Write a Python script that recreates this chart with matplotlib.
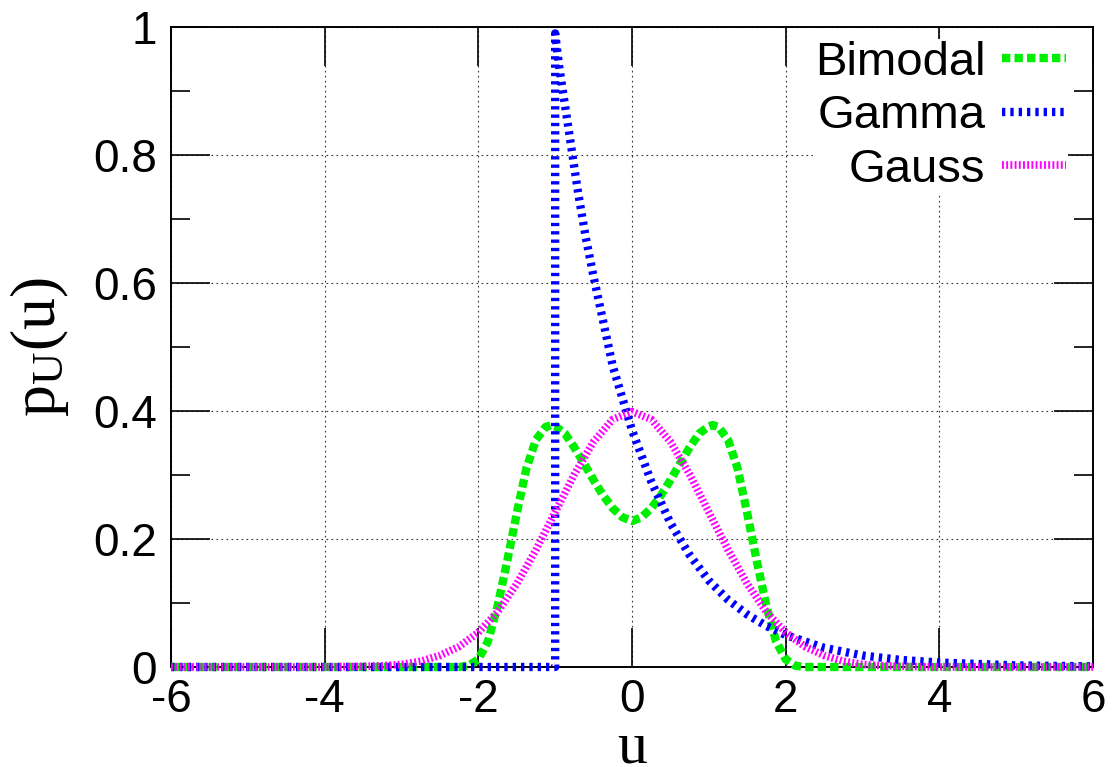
import matplotlib
matplotlib.use("Agg")
import matplotlib.pyplot as plt
from matplotlib.ticker import MultipleLocator, FixedLocator

plt.rcParams["font.family"] = ["Liberation Sans", "DejaVu Sans"]
plt.rcParams["axes.unicode_minus"] = False
plt.rcParams["mathtext.fontset"] = "custom"
plt.rcParams["mathtext.rm"] = "Liberation Serif"
plt.rcParams["mathtext.it"] = "Liberation Serif:italic"

# ── values ──
u_bimodal = [-6, -3, -2.25, -2.125, -2.0, -1.875, -1.75, -1.625, -1.5, -1.375, -1.25,
             -1.125, -1.05, -1.0, -0.875, -0.75, -0.625, -0.5, -0.375, -0.25, -0.125, 0,
             0.125, 0.25, 0.375, 0.5, 0.625, 0.75, 0.875, 1.0, 1.05, 1.125, 1.25, 1.375,
             1.5, 1.625, 1.75, 1.875, 2.0, 2.125, 2.25, 3, 6]
p_bimodal = [0, 0, 0, 0.002, 0.012, 0.04, 0.095, 0.165, 0.24, 0.31, 0.355,
             0.375, 0.378, 0.376, 0.365, 0.343, 0.318, 0.292, 0.268, 0.248, 0.234, 0.228,
             0.234, 0.248, 0.268, 0.292, 0.318, 0.343, 0.365, 0.376, 0.378, 0.375, 0.355, 0.31,
             0.24, 0.165, 0.095, 0.04, 0.012, 0.002, 0, 0, 0]

u_gamma = [-6, -1, -1, -0.95, -0.9, -0.8, -0.7, -0.6, -0.5, -0.25, 0, 0.25, 0.5, 0.75,
           1, 1.25, 1.5, 1.75, 2, 2.5, 3, 3.5, 4, 5, 6]
p_gamma = [0, 0, 0.99, 0.94, 0.9, 0.82, 0.74, 0.67, 0.61, 0.47, 0.37, 0.29, 0.225, 0.175,
           0.135, 0.105, 0.082, 0.064, 0.05, 0.03, 0.018, 0.011, 0.007, 0.0025, 0.001]

u_gauss = [-6, -4, -3.5, -3.25, -3, -2.75, -2.5, -2.25, -2, -1.75, -1.5, -1.25, -1,
           -0.75, -0.5, -0.25, 0, 0.25, 0.5, 0.75, 1, 1.25, 1.5, 1.75, 2, 2.25, 2.5,
           2.75, 3, 3.25, 3.5, 4, 6]
p_gauss = [0, 0, 0.001, 0.002, 0.004, 0.009, 0.018, 0.032, 0.054, 0.086, 0.13, 0.183, 0.242,
           0.301, 0.352, 0.387, 0.399, 0.387, 0.352, 0.301, 0.242, 0.183, 0.13, 0.086, 0.054,
           0.032, 0.018, 0.009, 0.004, 0.002, 0.001, 0, 0]

x_ticks = [-6, -4, -2, 0, 2, 4, 6]
y_ticks = [0, 0.2, 0.4, 0.6, 0.8, 1.0]
y_ticklabels = ["0", "0.2", "0.4", "0.6", "0.8", "1"]

fig = plt.figure(figsize=(11.18, 7.67), dpi=100)
ax = fig.add_axes([171 / 1118, 1 - 667 / 767, 922 / 1118, 640 / 767])

ax.plot(u_bimodal, p_bimodal, color="#00ee00", lw=6, dashes=(1.0, 0.5),
        label="Bimodal", clip_on=False, zorder=3)
ax.plot(u_gamma, p_gamma, color="#0000ff", lw=6, dashes=(0.4, 0.6),
        label="Gamma", clip_on=False, zorder=3)
ax.plot(u_gauss, p_gauss, color="#ff00ff", lw=5.5, dashes=(0.25, 0.3),
        label="Gauss", clip_on=False, zorder=3)

ax.set_xlim(-6, 6)
ax.set_ylim(0, 1)
ax.xaxis.set_major_locator(FixedLocator(x_ticks))
ax.set_yticks(y_ticks)
ax.set_yticklabels(y_ticklabels)
ax.yaxis.set_minor_locator(MultipleLocator(0.1))

ax.grid(True, which="major", color="0.2", lw=0.8, dashes=(1.5, 3.0))
ax.tick_params(which="both", direction="in", top=True, right=True,
               width=1.2, labelsize=33)
ax.tick_params(which="major", length=28)
ax.tick_params(which="minor", length=14)
ax.tick_params(axis="y", pad=10)
ax.tick_params(axis="x", pad=8)
for s in ax.spines.values():
    s.set_linewidth(1.4)

ax.set_xlabel("u", fontfamily="Liberation Serif", fontsize=43)
ax.xaxis.set_label_coords(0.5, -0.085)
ax.set_ylabel(r"p$_{\mathrm{U}}$(u)", fontfamily="Liberation Serif", fontsize=46)
ax.yaxis.set_label_coords(-0.108, 0.5)

leg = ax.legend(loc="upper right", bbox_to_anchor=(0.973, 0.982), borderaxespad=0,
                borderpad=0.05, labelspacing=0.2, handlelength=1.35, handletextpad=0.35,
                markerfirst=False, fontsize=34, frameon=True, fancybox=False,
                facecolor="white", edgecolor="none", framealpha=1)
leg.set_zorder(5)

fig.savefig("out.png", dpi=100, facecolor="white")
